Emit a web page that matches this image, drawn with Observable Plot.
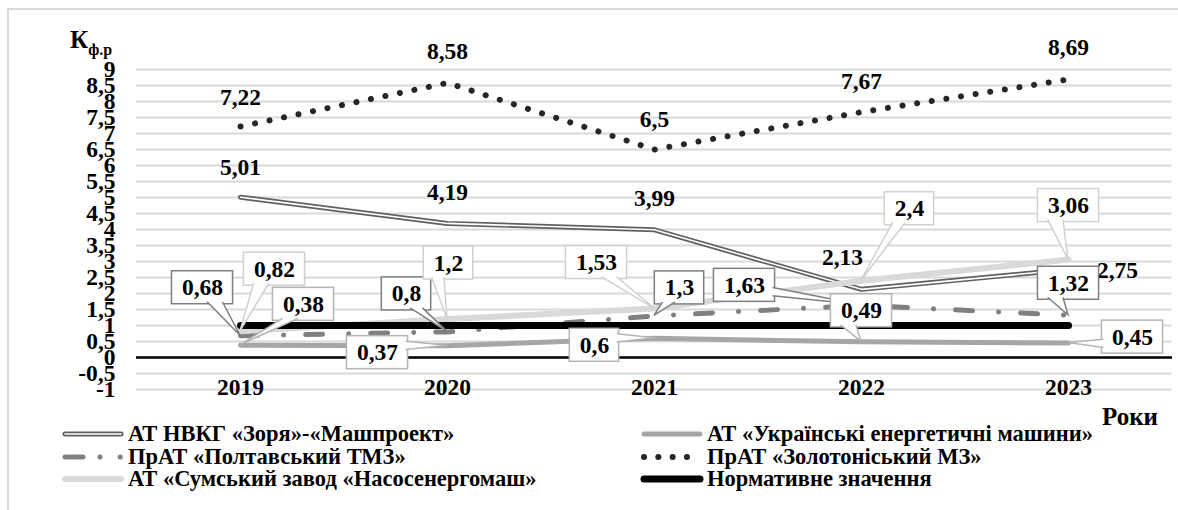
<!DOCTYPE html>
<html>
<head>
<meta charset="utf-8">
<script src="https://cdn.jsdelivr.net/npm/d3@7"></script>
<script src="https://cdn.jsdelivr.net/npm/@observablehq/plot@0.6"></script>
<style>
  body { margin: 0; background: #fff; }
  #wrap { position: relative; width: 1178px; height: 510px; overflow: hidden;
          font-family: "Liberation Serif", "Times New Roman", serif; font-weight: bold; color: #000; }
  #frame { position: absolute; left: 7px; top: 8px; width: 1300px; height: 700px;
           border-left: 2px solid #d9d9d9; border-top: 2px solid #d9d9d9; box-sizing: border-box; }
  #chart { position: absolute; left: 0; top: 0; }
  #chart svg { overflow: visible; }
  #ytitle { position: absolute; left: 70px; top: 27px; font-size: 25px; line-height: 25px; white-space: nowrap; }
  #ytitle sub { font-size: 16px; vertical-align: -7px; margin-left: 0; }
  #xtitle { position: absolute; left: 1102px; top: 404px; font-size: 25px; line-height: 25px; }
  .item { position: absolute; display: flex; align-items: center; height: 22px; white-space: nowrap; font-size: 22.5px; }
  .item svg { flex: none; margin-right: 3px; }
</style>
</head>
<body>
<div id="wrap">
  <div id="frame"></div>
  <div id="chart"></div>
  <div id="ytitle">К<sub>ф.р</sub></div>
  <div id="xtitle">Роки</div>
  <div id="legend"></div>
</div>
<script>
// Financial-stability ratio by company, 2019–2023
const years = ["2019", "2020", "2021", "2022", "2023"];
const zorya = [5.01, 4.19, 3.99, 2.13, 2.75];
const ukrEnergy = [0.38, 0.37, 0.6, 0.49, 0.45];
const poltava = [0.68, 0.8, 1.3, 1.63, 1.32];
const zolotonosha = [7.22, 8.58, 6.5, 7.67, 8.69];
const sumy = [0.82, 1.2, 1.53, 2.4, 3.06];
const normative = [1, 1, 1, 1, 1];

const names = {
  zorya: "АТ НВКГ «Зоря»-«Машпроект»",
  ukrEnergy: "АТ «Українські енергетичні машини»",
  poltava: "ПрАТ «Полтавський ТМЗ»",
  zolotonosha: "ПрАТ «Золотоніський МЗ»",
  sumy: "АТ «Сумський завод «Насосенергомаш»",
  normative: "Нормативне значення"
};
const yTicks = d3.range(-1, 9.001, 0.5);

// label placement (pixel offsets of each value label from its point)
const plainOffsets = {
  zorya: [[0, -30], [0, -31], [0, -31], [-19, -32], [49, 1]],
  zolotonosha: [[0, -29], [0, -31], [0, -30], [0, -31], [0, -32]]
};
const calloutOffsets = {
  poltava: [[-38, -48], [-41, -38], [25, -28], [-117, -20], [0, -32]],
  sumy: [[34, -62], [1, -56], [-58, -46], [48, -72], [0, -54]],
  ukrEnergy: [[63, -41], [-70, 7], [-60, 7], [0, -31], [64, -6]]
};
const boxStroke = { poltava: "#7f7f7f", sumy: "#d0d0d0", ukrEnergy: "#b4b4b4" };

const fmt = v => String(v).replace(".", ",");
const rows = vals => years.map((year, i) => ({ year, value: vals[i] }));
const values = { zorya, ukrEnergy, poltava, zolotonosha, sumy, normative };

const FONT_SIZE = 23.5;
const FONT_FAMILY = "'Liberation Serif', 'Times New Roman', serif";
const font = { fontSize: FONT_SIZE, fontWeight: "bold", fill: "#000" };
const lineBase = { x: "year", y: "value", strokeLinecap: "round", strokeLinejoin: "round" };

const plainMarks = [];
for (const key of Object.keys(plainOffsets)) {
  plainOffsets[key].forEach(([dx, dy], i) => {
    plainMarks.push(Plot.text([{ year: years[i], value: values[key][i] }],
      { x: "year", y: "value", text: d => fmt(d.value), dx, dy, ...font }));
  });
}
const callouts = [];
for (const key of Object.keys(calloutOffsets)) {
  calloutOffsets[key].forEach(([dx, dy], i) => {
    callouts.push({ key, year: years[i], value: values[key][i], dx, dy });
  });
}
const calloutMarks = callouts.map(c =>
  Plot.text([c], { x: "year", y: "value", text: d => fmt(d.value), dx: c.dx, dy: c.dy, ...font }));

// width of a callout's text, for sizing its box
const ctx = document.createElement("canvas").getContext("2d");
ctx.font = `bold ${FONT_SIZE}px ${FONT_FAMILY}`;
const textWidth = s => ctx.measureText(s).width;

function wedgePath(cx, cy, w, h, px, py) {
  const x0 = cx - w / 2, y0 = cy - h / 2, dx = px - cx, dy = py - cy, inset = 2;
  let b1, b2;
  if (Math.abs(dx) * h > Math.abs(dy) * w) {
    const ex = dx > 0 ? x0 + w - inset : x0 + inset;
    const [f1, f2] = dy > 0 ? [7 / 12, 10 / 12] : [2 / 12, 5 / 12];
    b1 = [ex, y0 + h * f1]; b2 = [ex, y0 + h * f2];
  } else {
    const ey = dy > 0 ? y0 + h - inset : y0 + inset;
    const [f1, f2] = dx > 0 ? [7 / 12, 10 / 12] : [2 / 12, 5 / 12];
    b1 = [x0 + w * f1, ey]; b2 = [x0 + w * f2, ey];
  }
  return `M${b1}L${px},${py}L${b2}`;
}

// callout boxes with wedge pointers, positioned through the plot's scales
function calloutBoxes(index, scales) {
  const layer = d3.create("svg:g");
  for (const c of callouts) {
    const w = textWidth(fmt(c.value)) + 20, h = 33;
    const px = scales.x(c.year), py = scales.y(c.value);
    const cx = px + c.dx, cy = py + c.dy;
    const g = layer.append("g").attr("stroke", boxStroke[c.key]).attr("stroke-width", 1.5).attr("fill", "#fff");
    g.append("rect").attr("x", cx - w / 2).attr("y", cy - h / 2).attr("width", w).attr("height", h);
    g.append("path").attr("d", wedgePath(cx, cy, w, h, px, py));
  }
  return layer.node();
}

const plot = Plot.plot({
  width: 1178,
  height: 400,
  marginLeft: 136,
  marginRight: 6,
  marginTop: 69,
  marginBottom: 11,
  x: { type: "point", domain: years, padding: 0.5, label: null },
  y: { domain: [-1, 9], label: null },
  style: { fontFamily: FONT_FAMILY, fontSize: FONT_SIZE + "px", fontWeight: "bold", color: "#000", background: "transparent" },
  marks: [
    Plot.gridY(yTicks, { stroke: "#d9d9d9", strokeOpacity: 1, strokeWidth: 2 }),
    Plot.ruleY([0], { stroke: "#000", strokeWidth: 2.5 }),
    Plot.axisY(yTicks, { tickSize: 0, tickPadding: 21, tickFormat: fmt, ...font }),
    Plot.axisX({ tickSize: 0, tickPadding: 0, dy: -11, ...font }),
    Plot.line(rows(zorya), { ...lineBase, stroke: "#606060", strokeWidth: 5 }),
    Plot.line(rows(zorya), { ...lineBase, stroke: "#fff", strokeWidth: 1.6 }),
    Plot.line(rows(ukrEnergy), { ...lineBase, stroke: "#a6a6a6", strokeWidth: 5 }),
    Plot.line(rows(poltava), { ...lineBase, stroke: "#808080", strokeWidth: 5, strokeDasharray: "17,26,0.1,22" }),
    Plot.line(rows(zolotonosha), { ...lineBase, stroke: "#262626", strokeWidth: 6, strokeDasharray: "0.1,14.7" }),
    Plot.line(rows(sumy), { ...lineBase, stroke: "#d9d9d9", strokeWidth: 6 }),
    Plot.line(rows(normative), { ...lineBase, stroke: "#000", strokeWidth: 7 }),
    ...plainMarks,
    calloutBoxes,
    ...calloutMarks
  ]
});
document.getElementById("chart").append(plot);

// legend
const legendItems = [
  { key: "zorya", left: 61, top: 423 },
  { key: "poltava", left: 61, top: 446 },
  { key: "sumy", left: 61, top: 468 },
  { key: "ukrEnergy", left: 640, top: 423 },
  { key: "zolotonosha", left: 640, top: 446 },
  { key: "normative", left: 640, top: 468 }
];
const swatchStyle = {
  zorya: [{ stroke: "#606060", width: 5 }, { stroke: "#fff", width: 1.6 }],
  ukrEnergy: [{ stroke: "#a6a6a6", width: 5 }],
  poltava: [{ stroke: "#808080", width: 5, dash: "18,17,0.1,20,0.1,20" }],
  zolotonosha: [{ stroke: "#262626", width: 6, dash: "0.1,14.2" }],
  sumy: [{ stroke: "#d9d9d9", width: 6 }],
  normative: [{ stroke: "#000", width: 7 }]
};
const legend = d3.select("#legend");
for (const it of legendItems) {
  const item = legend.append("div").attr("class", "item").style("left", it.left + "px").style("top", it.top + "px");
  const sw = item.append("svg").attr("width", 64).attr("height", 22);
  for (const s of swatchStyle[it.key]) {
    sw.append("line").attr("x1", 4).attr("x2", 60).attr("y1", 11).attr("y2", 11)
      .attr("stroke", s.stroke).attr("stroke-width", s.width).attr("stroke-linecap", "round")
      .attr("stroke-dasharray", s.dash || null);
  }
  item.append("span").text(names[it.key]);
}
</script>
</body>
</html>
